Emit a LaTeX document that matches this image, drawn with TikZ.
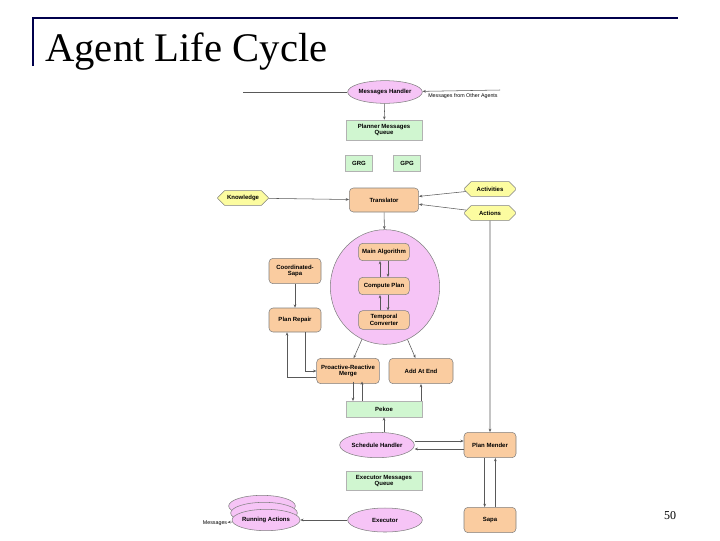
\documentclass[tikz,border=0pt]{standalone}
\usepackage{fontspec}
\setmainfont{Liberation Serif}
\newfontfamily\sansf{Liberation Sans}
\usetikzlibrary{shapes.geometric,shapes.misc,arrows.meta}
\definecolor{pk}{RGB}{246,196,246}
\definecolor{gr}{RGB}{208,246,208}
\definecolor{og}{RGB}{250,204,160}
\definecolor{yl}{RGB}{252,252,160}
\begin{document}
\begin{tikzpicture}[x=0.75pt,y=-0.75pt,
 lbl/.style={font=\sansf\fontsize{4.5}{5}\selectfont\bfseries,align=center,inner sep=0pt},
 ell/.style={lbl,ellipse,draw=gray,fill=pk},
 box/.style={lbl,rectangle,draw=gray!60,fill=gr},
 rnd/.style={lbl,rectangle,rounded corners=3pt,draw=gray,fill=og},
 oct/.style={lbl,draw=gray,fill=yl,chamfered rectangle,chamfered rectangle xsep=4pt,minimum width=38pt,minimum height=11pt},
 ar/.style={-{Stealth[length=2.5pt,width=2pt]},draw=gray!70!black,line width=0.4pt}]
\useasboundingbox (0,0) rectangle (720,540);
\draw[line width=2pt,draw=blue!30!black] (33,66) |- (678,18);
\node[anchor=west,font=\fontsize{30.5}{33}\selectfont,inner sep=0pt] (title) at (45,52) {Agent Life Cycle};
\node[font=\fontsize{9}{10}\selectfont] (pg) at (670,516) {50};
% nodes
\node[ell,minimum width=56pt,minimum height=17pt] (mh) at (385,92) {Messages Handler};
\node[box,minimum width=57pt,minimum height=15pt] (pmq) at (384,130) {Planner Messages\\Queue};
\node[box,minimum width=20pt,minimum height=12pt] (grg) at (359,163) {GRG};
\node[box,minimum width=20pt,minimum height=12pt] (gpg) at (407,163) {GPG};
\node[rnd,minimum width=52pt,minimum height=18pt] (tr) at (384,200) {Translator};
\node[oct] (kn) at (243,198) {Knowledge};
\node[oct] (act) at (490,189) {Activities};
\node[oct] (acn) at (490,213) {Actions};
\node[ellipse,draw=gray,fill=pk,minimum width=82pt,minimum height=86pt] (big) at (385,287) {};
\node[rnd,minimum width=38pt,minimum height=13pt] (ma) at (384,252) {Main Algorithm};
\node[rnd,minimum width=38pt,minimum height=13pt] (cp) at (384,286) {Compute Plan};
\node[rnd,minimum width=38pt,minimum height=14pt] (tc) at (384,320) {Temporal\\Converter};
\node[rnd,minimum width=39pt,minimum height=19pt] (cs) at (295,271) {Coordinated-\\Sapa};
\node[rnd,minimum width=39pt,minimum height=18pt] (prp) at (295,320) {Plan Repair};
\node[rnd,minimum width=47pt,minimum height=19pt] (prm) at (348,371) {Proactive-Reactive\\Merge};
\node[rnd,minimum width=48pt,minimum height=19pt] (aae) at (421,371) {Add At End};
\node[box,minimum width=57pt,minimum height=12pt] (pek) at (384,409) {Pekoe};
\node[ell,minimum width=56pt,minimum height=19pt] (sh) at (377,445) {Schedule Handler};
\node[rnd,minimum width=39pt,minimum height=19pt] (pm) at (490,445) {Plan Mender};
\node[box,minimum width=57pt,minimum height=14pt] (emq) at (384,481) {Executor Messages\\Queue};
\node[ell,minimum width=56pt,minimum height=18pt] (ex) at (385,520) {Executor};
\node[rnd,minimum width=39pt,minimum height=19pt] (sapa) at (490,520) {Sapa};
\node[ell,minimum width=50pt,minimum height=16pt] (ra3) at (262,506) {};
\node[ell,minimum width=50pt,minimum height=16pt] (ra2) at (264,513) {};
\node[ell,minimum width=50pt,minimum height=16pt] (ra) at (266,520) {Running Actions};
\node[lbl,font=\sansf\fontsize{4}{5}\selectfont] (msg) at (215,523) {Messages};
\node[lbl,font=\sansf\fontsize{4}{5}\selectfont,anchor=west] (mfo) at (428,96) {Messages from Other Agents};
\coordinate (lft) at (243,92);
\coordinate (rgt) at (500,90);
\coordinate (pa) at (353,381.5);
\coordinate (pb) at (353,401);
\coordinate (pc) at (362,381.5);
\coordinate (pd) at (362,401);
% edges
\draw[draw=gray!70!black,line width=0.4pt] (lft) -- (mh);
\draw[ar] (rgt) -- (mh);
\draw[ar] (mh) -- (pmq);
\draw[ar] (kn) -- (tr);
\draw[ar] (act) -- (tr);
\draw[ar] (acn) -- (tr);
\draw[ar] (tr) -- (big);
\draw[ar] ([xshift=-3pt]cp.north) -- ([xshift=-3pt]ma.south);
\draw[ar] ([xshift=3pt]ma.south) -- ([xshift=3pt]cp.north);
\draw[ar] ([xshift=-3pt]tc.north) -- ([xshift=-3pt]cp.south);
\draw[ar] ([xshift=3pt]cp.south) -- ([xshift=3pt]tc.north);
\draw[ar] (big) -- (prm);
\draw[ar] (big) -- (aae);
\draw[ar] (cs) -- (prp);
\draw[ar] ([xshift=8pt]prp.south) |- (prm.west);
\draw[ar] ([yshift=-5pt]prm.west) -| ([xshift=-6pt]prp.south);
\draw[ar] (pa) -- (pb);
\draw[ar] (pd) -- (pc);
\draw[ar] (pek.north-|aae.south) -- (aae.south);
\draw[ar] (sh.north-|pek.south) -- (pek.south);
\draw[ar] (acn) -- (pm);
\draw[ar] ([yshift=3pt]sh.east) -- ([yshift=3pt]pm.west);
\draw[ar] ([yshift=-3pt]pm.west) -- ([yshift=-3pt]sh.east);
\draw[ar] ([xshift=-4pt]pm.south) -- ([xshift=-4pt]sapa.north);
\draw[ar] ([xshift=4pt]sapa.north) -- ([xshift=4pt]pm.south);
\draw[ar] (ex) -- (ra);
\draw[ar] (ra) -- (msg);
\end{tikzpicture}
\end{document}
